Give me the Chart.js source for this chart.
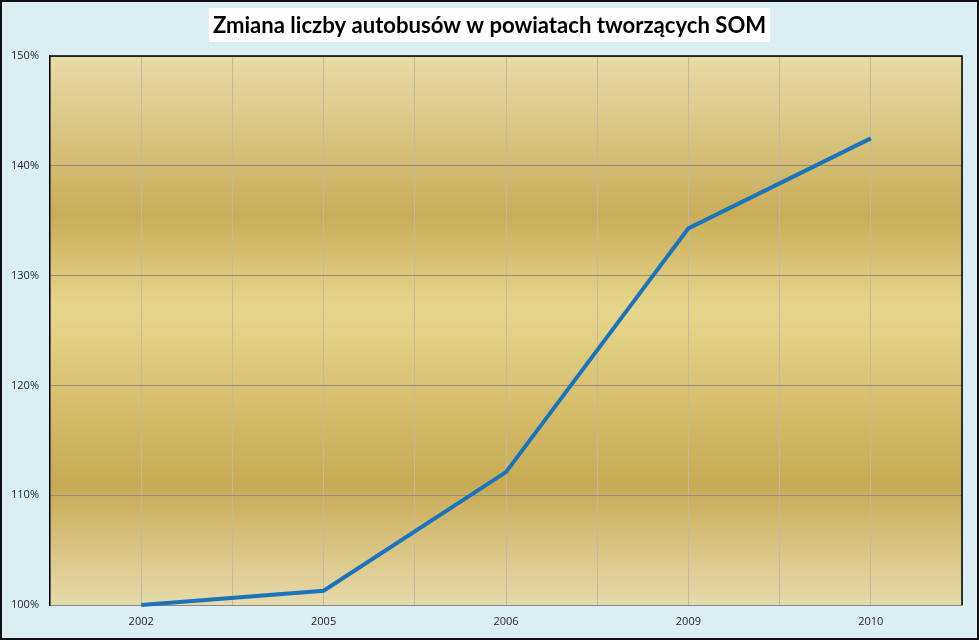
<!DOCTYPE html>
<html lang="pl">
<head>
<meta charset="utf-8">
<title>Zmiana liczby autobusów</title>
<script src="https://cdn.jsdelivr.net/npm/chart.js@4"></script>
<style>
    html, body { margin: 0; padding: 0; background: #dbeef4; }
    #wrap { width: 979px; height: 640px; position: relative; }
</style>
</head>
<body>
<div id="wrap"><canvas id="wykres"></canvas></div>
<script>
// --- DANE ---
const lata = ['2002', '2005', '2006', '2009', '2010'];
const zmianaProcent = [100, 101.3, 112.1, 134.3, 142.5];
const tytul = 'Zmiana liczby autobusów w powiatach tworzących SOM';

// tło wykresu, ramka i tytuł w białym polu
const tloPlugin = {
    id: 'tlo',
    beforeDraw(chart) {
        const { ctx, chartArea: a, width, height } = chart;
        ctx.save();
        ctx.fillStyle = '#dbeef4';
        ctx.fillRect(0, 0, width, height);
        const g = ctx.createLinearGradient(0, a.top, 0, a.bottom);
        g.addColorStop(0, '#e7dba6');
        g.addColorStop(0.29, '#c9ad5a');
        g.addColorStop(0.46, '#e6d68c');
        g.addColorStop(0.78, '#c8aa54');
        g.addColorStop(1, '#e6dbac');
        ctx.fillStyle = g;
        ctx.fillRect(a.left, a.top, a.right - a.left, a.bottom - a.top);
        ctx.restore();
    },
    afterDraw(chart) {
        const { ctx, chartArea: a, width, height } = chart;
        ctx.save();
        // ramka obszaru wykresu (góra, prawo)
        ctx.strokeStyle = '#000';
        ctx.lineWidth = 1.5;
        ctx.beginPath();
        ctx.moveTo(a.left, a.top);
        ctx.lineTo(a.right, a.top);
        ctx.lineTo(a.right, a.bottom);
        ctx.stroke();
        // tytuł
        ctx.font = 'bold 24px Lato, "Open Sans", sans-serif';
        let w = ctx.measureText(tytul).width;
        const rozmiar = 24 * 553 / w;
        ctx.font = 'bold ' + rozmiar.toFixed(1) + 'px Lato, "Open Sans", sans-serif';
        w = ctx.measureText(tytul).width;
        ctx.fillStyle = '#fff';
        ctx.fillRect(width / 2 - w / 2 - 4, 8, w + 8, 34);
        ctx.fillStyle = '#000';
        ctx.textAlign = 'center';
        ctx.textBaseline = 'alphabetic';
        ctx.fillText(tytul, width / 2, 33);
        // ramka całości
        ctx.strokeStyle = '#111';
        ctx.lineWidth = 2;
        ctx.strokeRect(1, 1, width - 2, height - 2);
        ctx.restore();
    }
};

const ctx = document.getElementById('wykres');
new Chart(ctx, {
    type: 'line',
    data: {
        datasets: [{
            label: 'Zmiana',
            data: zmianaProcent.map((v, i) => ({ x: i, y: v })),
            borderColor: '#1b74ba',
            borderWidth: 4,
            pointRadius: 0,
            tension: 0,
            clip: 3
        }]
    },
    options: {
        responsive: true,
        maintainAspectRatio: false,
        animation: false,
        layout: { padding: { top: 56, right: 17, bottom: 0, left: 0 } },
        plugins: {
            legend: { display: false },
            tooltip: { enabled: false }
        },
        scales: {
            x: {
                type: 'linear',
                min: -0.5,
                max: 4.5,
                afterFit(scale) { scale.height = 35; },
                afterBuildTicks(scale) {
                    const t = [];
                    for (let v = -0.5; v <= 4.5; v += 0.5) t.push({ value: v });
                    scale.ticks = t;
                },
                ticks: {
                    autoSkip: false,
                    maxRotation: 0,
                    padding: 10,
                    color: '#262626',
                    font: { family: '"Open Sans", Arial, sans-serif', size: 11 },
                    callback: (v) => Number.isInteger(v) ? lata[v] : ''
                },
                grid: { color: '#bfb9a6', drawTicks: false },
                border: { color: '#8a8a8a', width: 1 }
            },
            y: {
                min: 100,
                max: 150,
                afterFit(scale) { scale.width = 50; },
                ticks: {
                    stepSize: 10,
                    padding: 11,
                    color: '#262626',
                    font: { family: '"Open Sans", Arial, sans-serif', size: 11 },
                    callback: (v) => v + '%'
                },
                grid: { color: '#938d82', drawTicks: false },
                border: { color: '#000', width: 1.5 }
            }
        }
    },
    plugins: [tloPlugin]
});
</script>
</body>
</html>
